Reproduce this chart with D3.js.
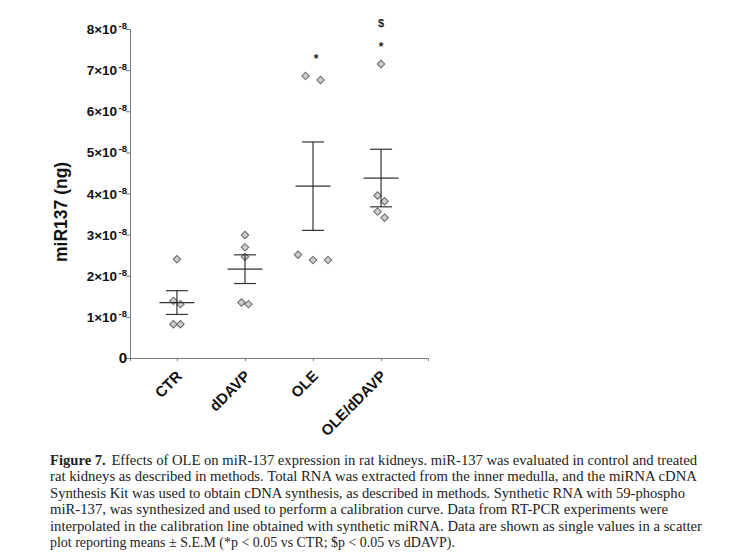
<!DOCTYPE html>
<html>
<head>
<meta charset="utf-8">
<script src="https://cdn.jsdelivr.net/npm/d3@7"></script>
<style>
    body { margin: 0; background: #fff; }
    svg { display: block; }
    .tick-label { font-family: "Liberation Sans", Arial, sans-serif; font-weight: bold; fill: #111; }
    .caption { font-family: "Liberation Serif", "Times New Roman", serif; fill: #222; }
</style>
</head>
<body>
<div id="chart"></div>
<script>
// Scatter plot miR-137, mean ± SEM

const groups = ["CTR", "dDAVP", "OLE", "OLE/dDAVP"];
// values in units of 1e-8 ng
const ctrValues = [2.40, 1.39, 1.31, 0.82, 0.82];
const ddavpValues = [2.99, 2.69, 2.46, 1.35, 1.31];
const oleValues = [6.86, 6.76, 2.51, 2.38, 2.38];
const oleDdavpValues = [7.15, 3.95, 3.81, 3.56, 3.41];
const groupValues = [ctrValues, ddavpValues, oleValues, oleDdavpValues];
const sigMarks = [[], [], ["*"], ["*", "$"]];

const yTicks = [0, 1, 2, 3, 4, 5, 6, 7, 8];
const yExponent = "-8";
const yLabel = "miR137 (ng)";

const captionTitle = "Figure 7.";
const captionLines = [
    "Effects of OLE on miR-137 expression in rat kidneys. miR-137 was evaluated in control and treated",
    "rat kidneys as described in methods. Total RNA was extracted from the inner medulla, and the miRNA cDNA",
    "Synthesis Kit was used to obtain cDNA synthesis, as described in methods. Synthetic RNA with 59-phospho",
    "miR-137, was synthesized and used to perform a calibration curve. Data from RT-PCR experiments were",
    "interpolated in the calibration line obtained with synthetic miRNA. Data are shown as single values in a scatter",
    "plot reporting means ± S.E.M (*p < 0.05 vs CTR; $p < 0.05 vs dDAVP)."
];
const captionWidths = [647, 647, 635, 618, 652, 405];

const width = 741;
const height = 560;
const plot = { left: 130, right: 428, top: 29, bottom: 358 };
const swarmGap = 7;
const wideSwarm = { "OLE": 15 };

const svg = d3.select("#chart").append("svg")
    .attr("width", width)
    .attr("height", height)
    .attr("viewBox", `0 0 ${width} ${height}`);

svg.append("rect").attr("width", width).attr("height", height).attr("fill", "#fff");

const x = d3.scalePoint()
    .domain(groups)
    .range([plot.left, plot.right])
    .padding(0.69);

const y = d3.scaleLinear()
    .domain([0, 8])
    .range([plot.bottom, plot.top]);

// y axis
const yAxisG = svg.append("g")
    .attr("transform", `translate(${plot.left},0)`)
    .call(d3.axisLeft(y).tickValues(yTicks).tickSize(4).tickPadding(2).tickFormat(""));

yAxisG.select(".domain").attr("stroke", "#7a7a7a");
yAxisG.selectAll(".tick line").attr("stroke", "#7a7a7a");
yAxisG.selectAll(".tick text").each(function (d) {
    const t = d3.select(this)
        .attr("class", "tick-label")
        .attr("font-size", 13.5)
        .attr("dy", "0.34em")
        .attr("x", -3);
    t.selectAll("*").remove();
    t.text(null);
    if (d === 0) {
        t.append("tspan").attr("font-size", 15).text("0");
    } else {
        t.append("tspan").text(`${d}×10`);
        t.append("tspan")
            .attr("font-size", 9.5)
            .attr("dx", 1.5)
            .attr("dy", -5)
            .text(yExponent);
    }
});

// x axis
const xAxisG = svg.append("g")
    .attr("transform", `translate(0,${plot.bottom})`)
    .call(d3.axisBottom(x).tickSize(3).tickFormat(""));

xAxisG.select(".domain").attr("stroke", "#7a7a7a");
xAxisG.selectAll(".tick line").attr("stroke", "#7a7a7a");

svg.append("g").selectAll("text")
    .data(groups)
    .join("text")
    .attr("class", "tick-label")
    .attr("font-size", 15)
    .attr("text-anchor", "end")
    .attr("transform", d => `translate(${x(d) + 6},${plot.bottom + 19}) rotate(-45)`)
    .text(d => d);

svg.append("text")
    .attr("class", "tick-label")
    .attr("font-size", 17.5)
    .attr("text-anchor", "middle")
    .attr("transform", `translate(67,${(y(2.4) + y(4.9)) / 2 + 4}) rotate(-90)`)
    .text(yLabel);

// spread points that would overlap in a column
function swarm(values, group) {
    const gap = wideSwarm[group] || swarmGap;
    const items = values.map((v, i) => ({ v, i, py: y(v) }))
        .sort((a, b) => d3.descending(a.v, b.v) || d3.ascending(a.i, b.i));
    const clusters = [];
    items.forEach(item => {
        const last = clusters[clusters.length - 1];
        if (last && item.py - last[last.length - 1].py < 8) last.push(item);
        else clusters.push([item]);
    });
    const out = [];
    clusters.forEach(c => {
        c.forEach((item, k) => {
            out.push({ v: item.v, px: x(group) + (k - (c.length - 1) / 2) * gap, py: item.py });
        });
    });
    return out;
}

const diamond = d3.symbol().type(d3.symbolSquare).size(28);

groups.forEach((g, gi) => {
    const vals = groupValues[gi];
    const mean = d3.mean(vals);
    const sem = d3.deviation(vals) / Math.sqrt(vals.length);
    const cx = x(g);
    const layer = svg.append("g");

    layer.selectAll("path.pt")
        .data(swarm(vals, g))
        .join("path")
        .attr("class", "pt")
        .attr("d", diamond)
        .attr("transform", d => `translate(${d.px},${d.py}) rotate(45)`)
        .attr("fill", "#cdcdcd")
        .attr("stroke", "#666")
        .attr("stroke-width", 1);

    const lineColor = "#333";
    layer.append("line")
        .attr("x1", cx - 17.5).attr("x2", cx + 17.5)
        .attr("y1", y(mean)).attr("y2", y(mean))
        .attr("stroke", lineColor).attr("stroke-width", 1.2);
    layer.append("line")
        .attr("x1", cx).attr("x2", cx)
        .attr("y1", y(mean - sem)).attr("y2", y(mean + sem))
        .attr("stroke", lineColor).attr("stroke-width", 1.2);
    [mean - sem, mean + sem].forEach(v => {
        layer.append("line")
            .attr("x1", cx - 11).attr("x2", cx + 11)
            .attr("y1", y(v)).attr("y2", y(v))
            .attr("stroke", lineColor).attr("stroke-width", 1.2);
    });

    const topY = y(d3.max(vals));
    sigMarks[gi].forEach((m, k) => {
        layer.append("text")
            .attr("x", cx + (gi === 2 ? 3 : 0))
            .attr("y", m === "$" ? topY - 37 : topY - 13 - k * 23)
            .attr("text-anchor", "middle")
            .attr("font-family", "Liberation Sans, Arial, sans-serif")
            .attr("font-weight", "bold")
            .attr("font-size", m === "$" ? 11 : 12)
            .attr("fill", "#222")
            .text(m);
    });
});

// caption
const caption = svg.append("g").attr("class", "caption");
captionLines.forEach((line, i) => {
    const t = caption.append("text")
        .attr("x", 50)
        .attr("y", 464.5 + i * 16.5)
        .attr("font-size", 15.5)
        .attr("textLength", captionWidths[i])
        .attr("lengthAdjust", "spacingAndGlyphs");
    if (i === 0) {
        t.append("tspan").attr("font-weight", "bold").text(captionTitle);
        t.append("tspan").attr("dx", 6).text(line);
    } else {
        t.text(line);
    }
});
</script>
</body>
</html>
